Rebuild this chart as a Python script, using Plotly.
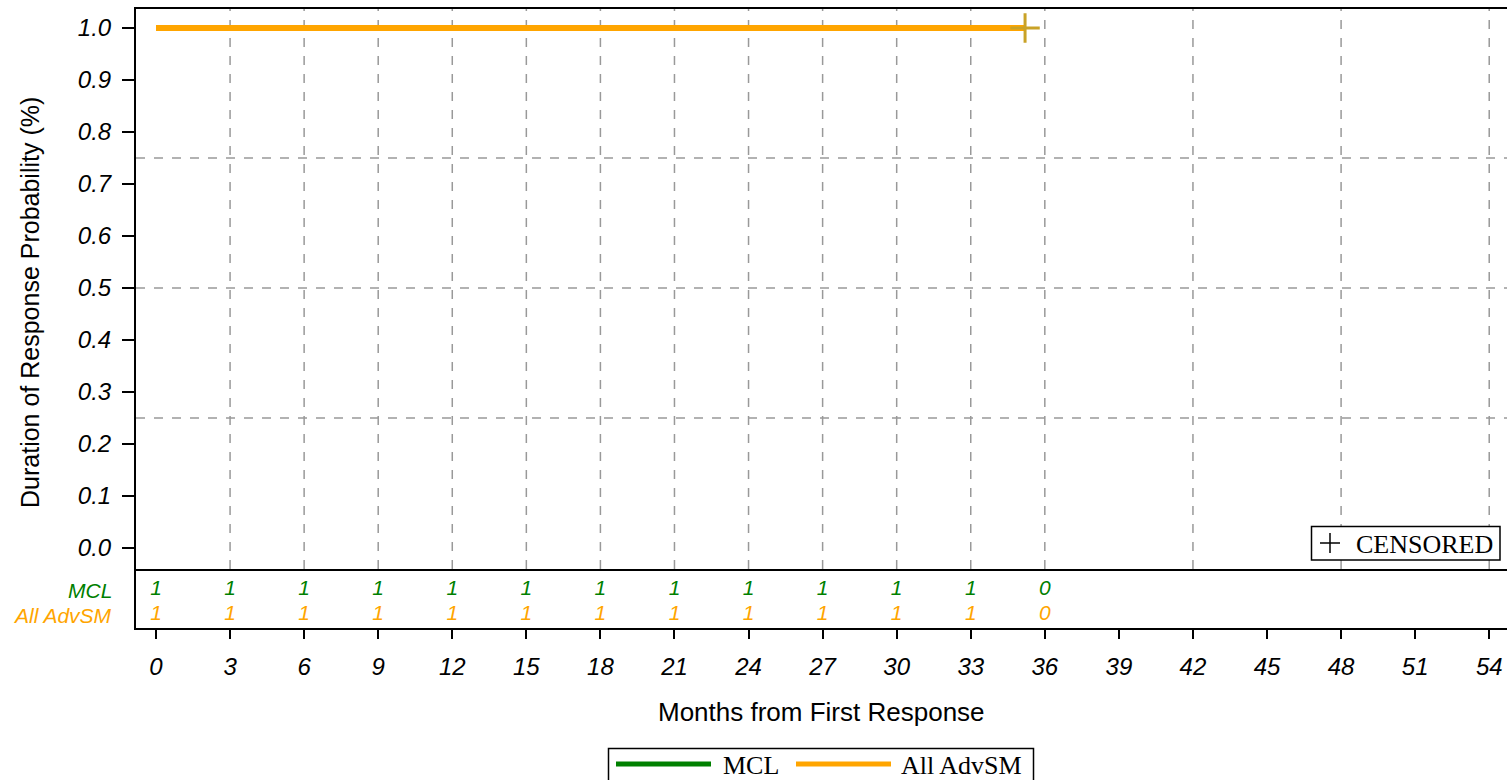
import plotly.graph_objects as go

# ---- data ----
groups = ["MCL", "All AdvSM"]
group_colors = ["#008000", "#FFA500"]
km_time = [0, 35.2]
km_surv_mcl = [1.0, 1.0]
km_surv_all = [1.0, 1.0]
censor_time = [35.2]
censor_surv = [1.0]
risk_times = [0, 3, 6, 9, 12, 15, 18, 21, 24, 27, 30, 33, 36]
risk_mcl = [1, 1, 1, 1, 1, 1, 1, 1, 1, 1, 1, 1, 0]
risk_all = [1, 1, 1, 1, 1, 1, 1, 1, 1, 1, 1, 1, 0]
x_ticks = list(range(0, 55, 3))
y_ticks = [round(i * 0.1, 1) for i in range(11)]
vgrid = [3, 6, 9, 12, 15, 18, 21, 24, 27, 30, 33, 36, 42, 48, 54]
hgrid = [0.25, 0.5, 0.75]

XR = [-0.81, 54.72]
YR = [-0.0404, 1.0365]

# pixel -> paper helpers (plot area: x 136..1507, y 9..628)
def px(xp):
    return (xp - 136) / 1371

def py(yp):
    return (628 - yp) / 619

SANS = "Liberation Sans"
SERIF = "Liberation Serif"

fig = go.Figure()

fig.add_trace(go.Scatter(x=km_time, y=km_surv_mcl, mode="lines", name=groups[0],
                         line=dict(color=group_colors[0], width=6, shape="hv"),
                         showlegend=False, xaxis="x", yaxis="y"))
fig.add_trace(go.Scatter(x=km_time, y=km_surv_all, mode="lines", name=groups[1],
                         line=dict(color=group_colors[1], width=6, shape="hv"),
                         showlegend=False, xaxis="x", yaxis="y"))
fig.add_trace(go.Scatter(x=censor_time, y=censor_surv, mode="markers", showlegend=False,
                         marker=dict(symbol="cross-thin", size=21,
                                     line=dict(color="#C9A227", width=3)),
                         xaxis="x", yaxis="y"))

# risk table
fig.add_trace(go.Scatter(x=risk_times, y=[0.644] * len(risk_times), mode="text",
                         text=[str(v) for v in risk_mcl], showlegend=False,
                         textfont=dict(color=group_colors[0], size=21,
                                       family=SANS, style="italic"),
                         xaxis="x2", yaxis="y2"))
fig.add_trace(go.Scatter(x=risk_times, y=[0.22] * len(risk_times), mode="text",
                         text=[str(v) for v in risk_all], showlegend=False,
                         textfont=dict(color=group_colors[1], size=21,
                                       family=SANS, style="italic"),
                         xaxis="x2", yaxis="y2"))

shapes = []
for gx in vgrid:
    shapes.append(dict(type="line", xref="x", yref="y", x0=gx, x1=gx, y0=YR[0], y1=YR[1],
                       line=dict(color="#999999", width=1.5, dash="dash"), layer="below"))
for gy in hgrid:
    shapes.append(dict(type="line", xref="x", yref="y", x0=XR[0], x1=XR[1], y0=gy, y1=gy,
                       line=dict(color="#999999", width=1.5, dash="dash"), layer="below"))

# manual legend (box + line samples)
shapes.append(dict(type="rect", xref="paper", yref="paper", x0=px(608.5), x1=px(1033.5),
                   y0=py(783), y1=py(748.5), line=dict(color="black", width=1.5),
                   fillcolor="white"))
shapes.append(dict(type="line", xref="paper", yref="paper", x0=px(616), x1=px(711),
                   y0=py(764), y1=py(764), line=dict(color=group_colors[0], width=5)))
shapes.append(dict(type="line", xref="paper", yref="paper", x0=px(796), x1=px(891),
                   y0=py(764), y1=py(764), line=dict(color=group_colors[1], width=5)))
# censored key box with a thin plus glyph
shapes.append(dict(type="rect", xref="paper", yref="paper", x0=px(1311.5), x1=px(1500),
                   y0=py(560), y1=py(526.5), line=dict(color="black", width=1.5),
                   fillcolor="white"))
shapes.append(dict(type="line", xref="paper", yref="paper", x0=px(1320), x1=px(1340),
                   y0=py(543), y1=py(543), line=dict(color="black", width=1.5)))
shapes.append(dict(type="line", xref="paper", yref="paper", x0=px(1330), x1=px(1330),
                   y0=py(533), y1=py(553), line=dict(color="black", width=1.5)))

tick_font = dict(family=SANS, size=24, color="black", style="italic")
table_frac = 59 / 619

annotations = [
    dict(xref="paper", yref="paper", x=px(114), y=py(590), xanchor="right",
         yanchor="middle", text=groups[0], showarrow=False,
         font=dict(family=SANS, size=21, color=group_colors[0], style="italic")),
    dict(xref="paper", yref="paper", x=px(114), y=py(615), xanchor="right",
         yanchor="middle", text=groups[1], showarrow=False,
         font=dict(family=SANS, size=21, color=group_colors[1], style="italic")),
    dict(xref="paper", yref="paper", x=px(1354), y=py(544), xanchor="left",
         yanchor="middle", text="CENSORED", showarrow=False,
         font=dict(family=SERIF, size=26, color="black")),
    dict(xref="paper", yref="paper", x=px(821.5), y=py(712), xanchor="center",
         yanchor="middle", text="Months from First Response", showarrow=False,
         font=dict(family=SANS, size=26, color="black")),
    dict(xref="paper", yref="paper", x=px(30), y=py(303), xanchor="center",
         yanchor="middle", text="Duration of Response Probability (%)", showarrow=False,
         textangle=-90, font=dict(family=SANS, size=25, color="black")),
    dict(xref="paper", yref="paper", x=px(721), y=py(765), xanchor="left",
         yanchor="middle", text=groups[0], showarrow=False,
         font=dict(family=SERIF, size=26, color="black")),
    dict(xref="paper", yref="paper", x=px(899), y=py(765), xanchor="left",
         yanchor="middle", text=groups[1], showarrow=False,
         font=dict(family=SERIF, size=26, color="black")),
]

fig.update_layout(
    width=1507, height=780,
    margin=dict(l=136, r=0, t=9, b=152),
    plot_bgcolor="white", paper_bgcolor="white",
    showlegend=False,
    shapes=shapes,
    annotations=annotations,
    xaxis=dict(domain=[0, 1], range=XR, anchor="y", showticklabels=False, ticks="",
               showgrid=False, zeroline=False, showline=True, linecolor="black",
               linewidth=2, mirror=True, automargin=False),
    yaxis=dict(domain=[table_frac, 1], range=YR, anchor="x", tickvals=y_ticks,
               ticktext=[f"{v:.1f}" for v in y_ticks], ticks="outside", ticklen=12,
               tickwidth=2, tickcolor="black", tickfont=tick_font, showgrid=False,
               zeroline=False, showline=True, linecolor="black", linewidth=2,
               ticklabelstandoff=6, automargin=False),
    xaxis2=dict(domain=[0, 1], range=XR, anchor="y2", tickvals=x_ticks,
                ticktext=[str(v) for v in x_ticks], ticks="outside", ticklen=9,
                tickwidth=2, tickcolor="black", tickfont=tick_font, showgrid=False,
                zeroline=False, showline=True, linecolor="black", linewidth=2,
                mirror=False, ticklabelstandoff=7, automargin=False),
    yaxis2=dict(domain=[0, table_frac], range=[0, 1], anchor="x2", showticklabels=False,
                ticks="", showgrid=False, zeroline=False, showline=True,
                linecolor="black", linewidth=2, automargin=False),
)

fig.write_html("out.html")
